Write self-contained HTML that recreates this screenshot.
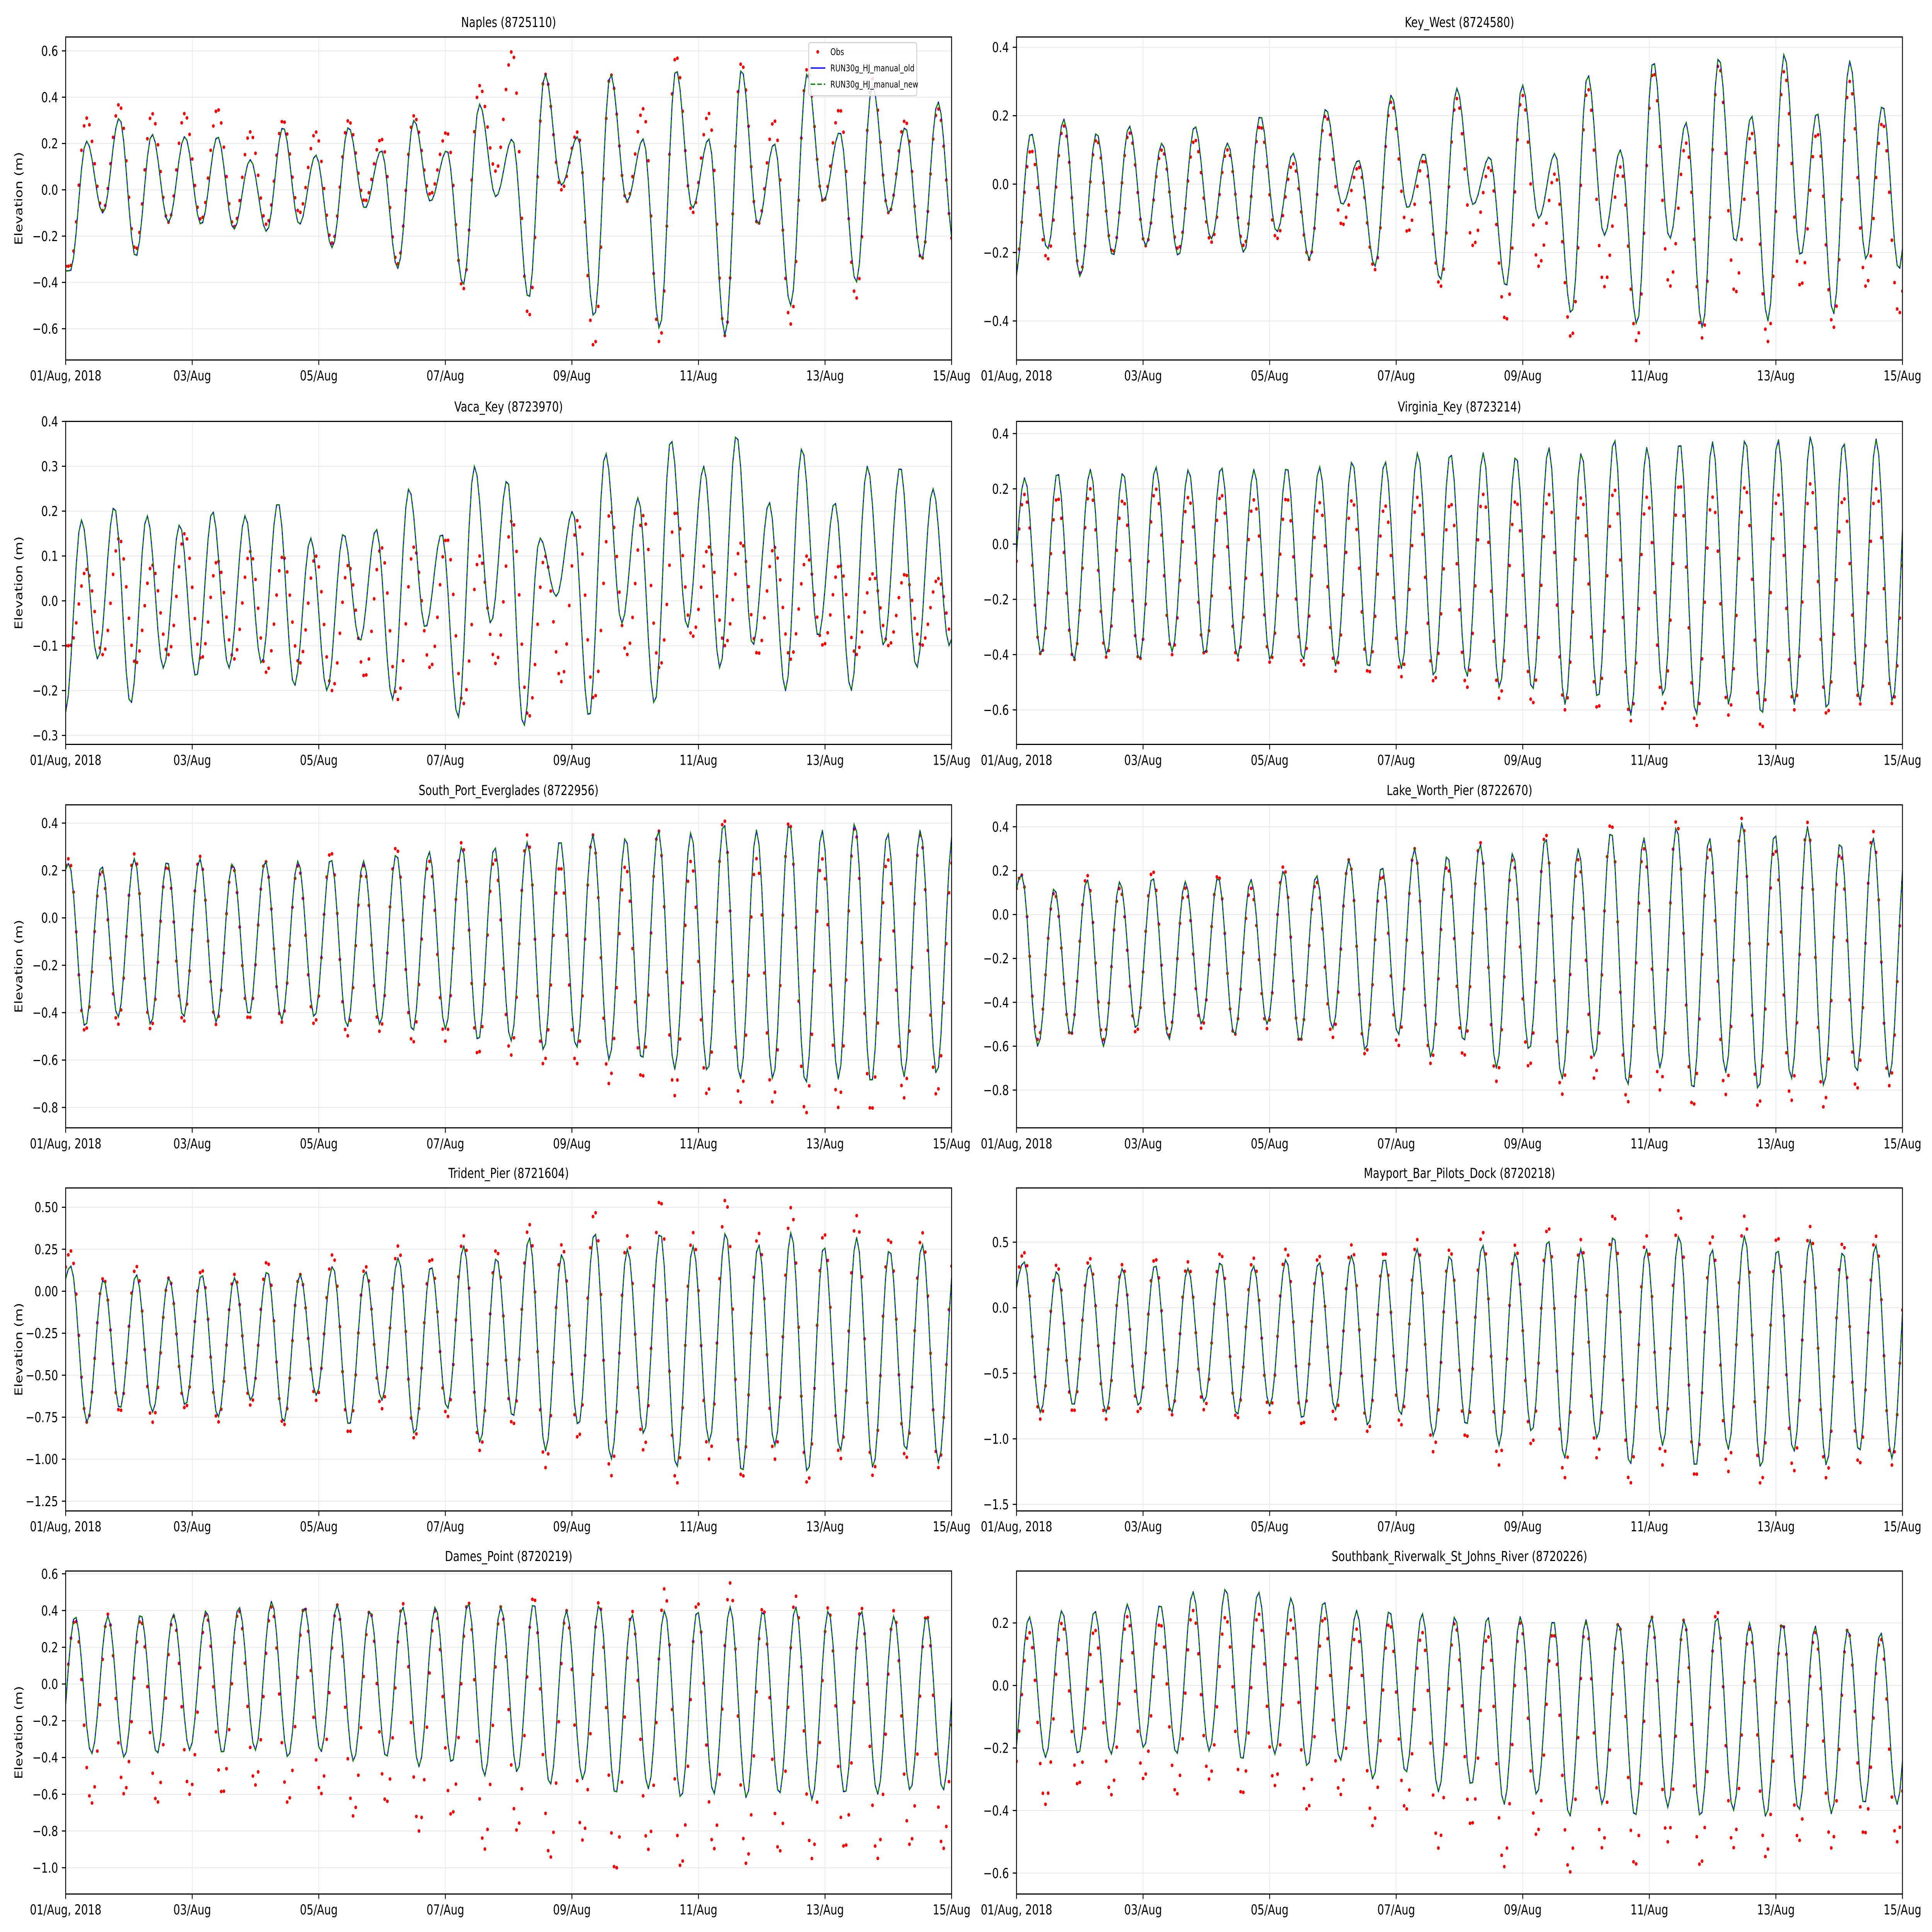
<!DOCTYPE html>
<html><head><meta charset="utf-8"><style>
html,body{margin:0;padding:0;background:#fff;overflow:hidden;width:100vw;height:100vh}
svg{display:block;width:100vw;height:100vh}
text{font-family:"DejaVu Sans","Liberation Sans",sans-serif}
</style></head><body>
<svg id="fig" xmlns="http://www.w3.org/2000/svg" viewBox="0 0 7650 5850" preserveAspectRatio="none"></svg>
<script>
const stations = ["Naples (8725110)","Key_West (8724580)","Vaca_Key (8723970)","Virginia_Key (8723214)","South_Port_Everglades (8722956)","Lake_Worth_Pier (8722670)","Trident_Pier (8721604)","Mayport_Bar_Pilots_Dock (8720218)","Dames_Point (8720219)","Southbank_Riverwalk_St_Johns_River (8720226)"];
const xTickLabels = ["01/Aug, 2018","03/Aug","05/Aug","07/Aug","09/Aug","11/Aug","13/Aug","15/Aug"];
const firstHigh = [0.33,0.23,0.25,0.13,0.05,0.08,0.08,0.12,0.15,0.2];
const obsShift = [0,0,0.08,0,0,0,0,0,0,0];
const yLims = [[-0.735,0.66],[-0.514,0.43],[-0.32,0.40],[-0.725,0.444],[-0.886,0.477],[-0.972,0.50],[-1.308,0.615],[-1.55,0.914],[-1.143,0.615],[-0.667,0.366]];
const yTicks = [[-0.6,-0.4,-0.2,0,0.2,0.4,0.6],[-0.4,-0.2,0,0.2,0.4],[-0.3,-0.2,-0.1,0,0.1,0.2,0.3,0.4],[-0.6,-0.4,-0.2,0,0.2,0.4],[-0.8,-0.6,-0.4,-0.2,0,0.2,0.4],[-0.8,-0.6,-0.4,-0.2,0,0.2,0.4],[-1.25,-1,-0.75,-0.5,-0.25,0,0.25,0.5],[-1.5,-1,-0.5,0,0.5],[-1,-0.8,-0.6,-0.4,-0.2,0,0.2,0.4,0.6],[-0.6,-0.4,-0.2,0,0.2]];
const yDecimals = [1,1,1,1,1,1,2,1,1,1];

const H0=[0.21,0.31,0.24,0.23,0.23,0.13,0.27,0.15,0.27,0.17,0.30,0.17,0.37,0.22,0.50,0.23,0.50,0.22,0.52,0.22,0.52,0.20,0.50,0.25,0.45,0.27,0.38,0.30];
const L0=[-0.35,-0.10,-0.29,-0.14,-0.15,-0.17,-0.18,-0.15,-0.25,-0.08,-0.34,-0.05,-0.41,-0.03,-0.47,0.02,-0.55,-0.05,-0.60,-0.08,-0.63,-0.15,-0.50,-0.05,-0.40,-0.10,-0.30,-0.25,-0.2];
const OH0=[0.31,0.37,0.33,0.33,0.35,0.25,0.30,0.25,0.30,0.22,0.32,0.25,0.45,0.60,0.50,0.25,0.50,0.35,0.58,0.33,0.55,0.30,0.52,0.35,0.48,0.30,0.35,0.32];
const OL0=[-0.33,-0.09,-0.26,-0.14,-0.13,-0.16,-0.15,-0.10,-0.23,-0.05,-0.32,-0.02,-0.43,0.08,-0.55,0.0,-0.68,-0.05,-0.66,-0.10,-0.63,-0.15,-0.58,-0.05,-0.47,-0.10,-0.30,-0.25,-0.2];

const H1=[0.15,0.19,0.15,0.17,0.12,0.17,0.12,0.20,0.09,0.22,0.07,0.26,0.09,0.28,0.08,0.29,0.09,0.32,0.10,0.36,0.18,0.37,0.20,0.38,0.21,0.36,0.23,0.29];
const L1=[-0.28,-0.19,-0.27,-0.21,-0.18,-0.21,-0.16,-0.20,-0.14,-0.22,-0.06,-0.24,-0.07,-0.28,-0.06,-0.30,-0.10,-0.38,-0.15,-0.41,-0.16,-0.42,-0.17,-0.40,-0.21,-0.38,-0.22,-0.25,-0.2];
const OH1=[0.10,0.17,0.13,0.15,0.10,0.13,0.10,0.17,0.06,0.20,0.05,0.24,0.07,0.25,0.05,0.26,0.03,0.28,0.05,0.33,0.12,0.35,0.15,0.33,0.15,0.30,0.18,0.22];
const OL1=[-0.25,-0.22,-0.26,-0.20,-0.18,-0.19,-0.17,-0.18,-0.16,-0.22,-0.12,-0.25,-0.14,-0.30,-0.18,-0.40,-0.24,-0.45,-0.30,-0.46,-0.30,-0.45,-0.32,-0.46,-0.30,-0.42,-0.30,-0.38,-0.3];

const H2=[0.18,0.21,0.19,0.17,0.20,0.19,0.22,0.14,0.15,0.16,0.25,0.15,0.30,0.27,0.14,0.20,0.33,0.23,0.36,0.30,0.37,0.22,0.34,0.22,0.30,0.30,0.25,0.20];
const L2=[-0.25,-0.13,-0.23,-0.15,-0.17,-0.15,-0.14,-0.19,-0.20,-0.09,-0.22,-0.06,-0.26,-0.05,-0.28,0.01,-0.26,-0.05,-0.23,-0.06,-0.15,-0.10,-0.20,-0.08,-0.20,-0.10,-0.15,-0.1,-0.1];
const OH2=[0.07,0.14,0.08,0.15,0.09,0.11,0.10,0.10,0.08,0.12,0.12,0.14,0.10,0.18,0.10,0.18,0.20,0.19,0.20,0.12,0.13,0.12,0.10,0.08,0.06,0.06,0.05,0.05];
const OL2=[-0.10,-0.12,-0.14,-0.12,-0.13,-0.13,-0.16,-0.14,-0.20,-0.17,-0.22,-0.15,-0.23,-0.14,-0.26,-0.18,-0.22,-0.12,-0.15,-0.08,-0.10,-0.12,-0.13,-0.10,-0.12,-0.10,-0.10,-0.1,-0.1];

const H3=[0.24,0.26,0.27,0.26,0.28,0.27,0.28,0.27,0.28,0.28,0.30,0.30,0.33,0.33,0.33,0.32,0.35,0.33,0.38,0.35,0.37,0.37,0.38,0.38,0.39,0.37,0.38,0.37];
const L3=[-0.30,-0.40,-0.42,-0.40,-0.42,-0.39,-0.40,-0.41,-0.42,-0.42,-0.44,-0.45,-0.45,-0.48,-0.48,-0.52,-0.53,-0.58,-0.56,-0.62,-0.55,-0.62,-0.58,-0.62,-0.58,-0.60,-0.57,-0.57,-0.5];
const OH3=[0.18,0.17,0.20,0.16,0.20,0.17,0.18,0.16,0.17,0.15,0.16,0.14,0.17,0.15,0.18,0.16,0.18,0.17,0.20,0.17,0.22,0.17,0.21,0.18,0.22,0.17,0.20,0.18];
const OL3=[-0.30,-0.40,-0.42,-0.41,-0.42,-0.40,-0.40,-0.42,-0.43,-0.44,-0.46,-0.47,-0.48,-0.50,-0.52,-0.56,-0.58,-0.60,-0.60,-0.64,-0.60,-0.66,-0.62,-0.67,-0.60,-0.62,-0.58,-0.58,-0.5];

const H4=[0.23,0.22,0.25,0.24,0.25,0.23,0.24,0.24,0.25,0.24,0.27,0.28,0.30,0.30,0.32,0.33,0.35,0.34,0.37,0.36,0.40,0.37,0.40,0.37,0.40,0.36,0.37,0.36];
const L4=[-0.05,-0.46,-0.42,-0.45,-0.42,-0.44,-0.41,-0.43,-0.42,-0.46,-0.45,-0.48,-0.47,-0.52,-0.52,-0.56,-0.55,-0.60,-0.60,-0.64,-0.65,-0.68,-0.68,-0.70,-0.68,-0.70,-0.67,-0.66,-0.6];
const OH4=[0.25,0.20,0.27,0.22,0.26,0.22,0.24,0.22,0.28,0.22,0.30,0.24,0.32,0.25,0.35,0.22,0.35,0.22,0.37,0.24,0.42,0.25,0.41,0.25,0.38,0.25,0.35,0.25];
const OL4=[-0.05,-0.48,-0.45,-0.47,-0.44,-0.45,-0.43,-0.44,-0.45,-0.50,-0.48,-0.53,-0.52,-0.58,-0.58,-0.62,-0.62,-0.70,-0.68,-0.75,-0.75,-0.78,-0.78,-0.83,-0.80,-0.82,-0.76,-0.75,-0.7];

const H5=[0.18,0.12,0.16,0.15,0.17,0.15,0.17,0.16,0.20,0.18,0.25,0.22,0.30,0.27,0.32,0.28,0.35,0.30,0.38,0.35,0.40,0.35,0.42,0.37,0.40,0.33,0.35,0.30];
const L5=[-0.10,-0.60,-0.55,-0.60,-0.52,-0.57,-0.50,-0.55,-0.50,-0.58,-0.52,-0.62,-0.55,-0.65,-0.58,-0.70,-0.62,-0.75,-0.65,-0.78,-0.70,-0.80,-0.72,-0.80,-0.75,-0.78,-0.72,-0.74,-0.6];
const OH5=[0.18,0.10,0.18,0.12,0.20,0.12,0.18,0.12,0.22,0.15,0.25,0.18,0.30,0.22,0.33,0.25,0.37,0.25,0.42,0.30,0.43,0.30,0.44,0.30,0.42,0.28,0.38,0.25];
const OL5=[-0.10,-0.57,-0.55,-0.57,-0.54,-0.55,-0.52,-0.55,-0.52,-0.58,-0.56,-0.64,-0.60,-0.68,-0.65,-0.76,-0.70,-0.82,-0.75,-0.86,-0.80,-0.88,-0.82,-0.88,-0.85,-0.88,-0.80,-0.78,-0.7];

const H6=[0.15,0.07,0.10,0.08,0.10,0.08,0.12,0.10,0.15,0.12,0.20,0.15,0.27,0.20,0.32,0.22,0.35,0.25,0.35,0.27,0.35,0.28,0.35,0.27,0.32,0.25,0.28,0.20];
const L6=[-0.20,-0.78,-0.70,-0.72,-0.68,-0.75,-0.65,-0.78,-0.62,-0.80,-0.65,-0.85,-0.70,-0.90,-0.75,-0.95,-0.80,-1.00,-0.85,-1.05,-0.90,-1.08,-0.92,-1.08,-0.95,-1.05,-0.95,-1.02,-0.8];
const OH6=[0.24,0.08,0.15,0.08,0.13,0.10,0.18,0.10,0.22,0.15,0.27,0.20,0.33,0.25,0.40,0.28,0.48,0.33,0.55,0.35,0.55,0.35,0.50,0.35,0.45,0.32,0.35,0.28];
const OL6=[-0.20,-0.78,-0.72,-0.78,-0.70,-0.78,-0.68,-0.80,-0.65,-0.85,-0.70,-0.88,-0.75,-0.95,-0.80,-1.05,-0.88,-1.10,-0.95,-1.15,-1.00,-1.12,-1.00,-1.15,-1.00,-1.10,-1.00,-1.05,-0.9];

const H7=[0.35,0.28,0.33,0.30,0.33,0.30,0.35,0.32,0.37,0.35,0.40,0.38,0.45,0.40,0.48,0.42,0.52,0.45,0.55,0.45,0.55,0.45,0.55,0.45,0.52,0.43,0.48,0.40];
const L7=[-0.10,-0.80,-0.75,-0.80,-0.75,-0.80,-0.72,-0.82,-0.75,-0.85,-0.78,-0.90,-0.82,-0.98,-0.90,-1.05,-0.95,-1.15,-1.00,-1.20,-1.05,-1.22,-1.08,-1.22,-1.10,-1.20,-1.10,-1.15,-0.9];
const OH7=[0.42,0.33,0.38,0.33,0.38,0.35,0.42,0.38,0.45,0.40,0.48,0.43,0.52,0.45,0.58,0.48,0.62,0.52,0.72,0.55,0.75,0.55,0.70,0.55,0.62,0.50,0.55,0.45];
const OL7=[-0.10,-0.85,-0.80,-0.85,-0.80,-0.82,-0.78,-0.85,-0.80,-0.90,-0.85,-0.95,-0.90,-1.10,-1.00,-1.20,-1.05,-1.30,-1.15,-1.35,-1.20,-1.30,-1.25,-1.35,-1.25,-1.30,-1.20,-1.20,-1.0];

const H8=[0.37,0.37,0.38,0.38,0.40,0.42,0.45,0.42,0.43,0.40,0.42,0.42,0.44,0.42,0.44,0.40,0.43,0.38,0.40,0.40,0.42,0.40,0.42,0.40,0.40,0.37,0.37,0.35];
const L8=[-0.40,-0.38,-0.40,-0.38,-0.36,-0.38,-0.36,-0.40,-0.37,-0.42,-0.40,-0.45,-0.43,-0.50,-0.48,-0.55,-0.52,-0.60,-0.57,-0.62,-0.60,-0.62,-0.60,-0.63,-0.60,-0.60,-0.58,-0.58,-0.5];
const OH8=[0.35,0.38,0.35,0.37,0.38,0.40,0.42,0.42,0.43,0.40,0.44,0.40,0.45,0.42,0.48,0.40,0.45,0.40,0.52,0.45,0.55,0.42,0.48,0.42,0.42,0.40,0.38,0.35];
const OL8=[-0.30,-0.65,-0.60,-0.65,-0.60,-0.60,-0.55,-0.65,-0.60,-0.72,-0.65,-0.80,-0.72,-0.90,-0.80,-0.95,-0.85,-1.02,-0.90,-1.00,-0.90,-0.98,-0.92,-0.95,-0.90,-0.95,-0.88,-0.90,-0.8];

const H9=[0.22,0.24,0.24,0.26,0.26,0.30,0.31,0.30,0.28,0.27,0.24,0.24,0.23,0.22,0.22,0.22,0.21,0.21,0.20,0.22,0.21,0.22,0.20,0.20,0.19,0.18,0.17,0.17];
const L9=[-0.25,-0.23,-0.22,-0.22,-0.20,-0.22,-0.21,-0.24,-0.22,-0.26,-0.24,-0.30,-0.28,-0.34,-0.32,-0.38,-0.35,-0.42,-0.38,-0.42,-0.39,-0.42,-0.40,-0.42,-0.40,-0.41,-0.38,-0.38,-0.35];
const OH9=[0.17,0.20,0.18,0.22,0.20,0.24,0.22,0.23,0.21,0.22,0.18,0.20,0.17,0.20,0.16,0.20,0.17,0.20,0.20,0.22,0.21,0.24,0.18,0.20,0.17,0.18,0.15,0.15];
const OL9=[-0.30,-0.38,-0.32,-0.35,-0.30,-0.35,-0.30,-0.35,-0.32,-0.40,-0.35,-0.45,-0.40,-0.52,-0.45,-0.58,-0.48,-0.60,-0.52,-0.58,-0.50,-0.58,-0.52,-0.55,-0.50,-0.52,-0.48,-0.50,-0.45];

const modelHighs=[H0,H1,H2,H3,H4,H5,H6,H7,H8,H9];
const modelLows=[L0,L1,L2,L3,L4,L5,L6,L7,L8,L9];
const obsHighs=[OH0,OH1,OH2,OH3,OH4,OH5,OH6,OH7,OH8,OH9];
const obsLows=[OL0,OL1,OL2,OL3,OL4,OL5,OL6,OL7,OL8,OL9];

// ---- layout ----
const NS="http://www.w3.org/2000/svg";
const svg=document.getElementById('fig');
const colX=[260,4025], rowY=[112,1276,2437,3597,4757], AW=3508, AH=978, DAYS=14, P=0.5175;
function el(tag,attrs,parent){const e=document.createElementNS(NS,tag);for(const k in attrs)e.setAttribute(k,attrs[k]);(parent||svg).appendChild(e);return e;}
function fmt(v,d){const s=Math.abs(v).toFixed(d);return (v<-1e-9?"\u2212":"")+s;}
function series(highs,lows,t0){
  const ev=[];
  for(let i=0;i<lows.length;i++){
    ev.push([t0+(i-0.5)*P,lows[i]]);
    if(i<highs.length) ev.push([t0+i*P,highs[i]]);
  }
  return function(t){
    if(t<=ev[0][0]) return ev[0][1];
    for(let k=0;k<ev.length-1;k++){
      const a=ev[k],b=ev[k+1];
      if(t>=a[0]&&t<=b[0]){const f=(t-a[0])/(b[0]-a[0]);return a[1]+(b[1]-a[1])*(1-Math.cos(Math.PI*f))/2;}
    }
    return ev[ev.length-1][1];
  };
}

for(let p=0;p<10;p++){
  const c=p%2, r=Math.floor(p/2);
  const x0=colX[c], y0=rowY[r];
  const [ymin,ymax]=yLims[p];
  const xs=t=>x0+t/DAYS*AW;
  const ys=v=>y0+AH-(v-ymin)/(ymax-ymin)*AH;
  const g=el('g',{});
  
  
  const clipId='clip'+p;
  const cp=el('clipPath',{id:clipId},g);el('rect',{x:x0,y:y0,width:AW,height:AH},cp);
  xTickLabels.forEach((lab,i)=>{const x=xs(i*2);
    const gl=el('line',{x1:x,x2:x,y1:y0,y2:y0+AH,stroke:'#ebebeb','stroke-width':3},g);
    });
  yTicks[p].forEach(v=>{const y=ys(v);
    const gl=el('line',{x1:x0,x2:x0+AW,y1:y,y2:y,stroke:'#ebebeb','stroke-width':3},g);
    });
  const fm=series(modelHighs[p],modelLows[p],firstHigh[p]);
  let d='';
  for(let h=0;h<=DAYS*24;h++){const t=h/24;d+=(h?'L':'M')+xs(t).toFixed(1)+','+ys(fm(t)).toFixed(1);}
  const dg=el('g',{'clip-path':'url(#'+clipId+')'},g);
  const fo=series(obsHighs[p],obsLows[p],firstHigh[p]+obsShift[p]);
  for(let h=0;h<=DAYS*24;h++){const t=h/24;
    const dot=el('circle',{cx:xs(t).toFixed(1),cy:ys(fo(t)).toFixed(1),r:5.5,fill:'#ff0000'},dg);
    
    }
  const l1=el('path',{d:d,fill:'none',stroke:'#0000ff','stroke-width':4,'stroke-linejoin':'round'},dg);
  
  const l2=el('path',{d:d,fill:'none',stroke:'#008000','stroke-width':4,'stroke-dasharray':'18,8'},dg);
  
  const fr=el('rect',{x:x0,y:y0,width:AW,height:AH,fill:'none',stroke:'#000','stroke-width':3.5},g);
  
  xTickLabels.forEach((lab,i)=>{const x=xs(i*2);
    el('line',{x1:x,x2:x,y1:y0+AH,y2:y0+AH+15,stroke:'#000','stroke-width':3.3},g);
    const t=el('text',{x:x,y:y0+AH+62,'font-size':42,'text-anchor':'middle',fill:'#000'},g);
    t.textContent=lab;});
  yTicks[p].forEach(v=>{const y=ys(v);
    el('line',{x1:x0-15,x2:x0,y1:y,y2:y,stroke:'#000','stroke-width':3.3},g);
    const t=el('text',{x:x0-30,y:y+15,'font-size':42,'text-anchor':'end',fill:'#000'},g);
    t.textContent=fmt(v,yDecimals[p]);});
  const ti=el('text',{x:x0+AW/2,y:y0-30,'font-size':42,'text-anchor':'middle',fill:'#000'},g);
  ti.textContent=stations[p];
  if(c===0){
    const yl=el('text',{x:0,y:0,'font-size':42,'text-anchor':'middle',fill:'#000',transform:'translate(88,'+(y0+AH/2)+') rotate(-90)'},g);
    yl.textContent='Elevation (m)';
  }
}
const lg=el('g',{});


el('rect',{x:3202,y:129,width:428,height:161,rx:8,fill:'#fff','fill-opacity':0.85,stroke:'#cccccc','stroke-width':3},lg);
el('circle',{cx:3238,cy:157,r:5.5,fill:'#ff0000'},lg);
el('line',{x1:3210,x2:3268,y1:206,y2:206,stroke:'#0000ff','stroke-width':4},lg);
el('line',{x1:3210,x2:3268,y1:255,y2:255,stroke:'#008000','stroke-width':4,'stroke-dasharray':'18,8'},lg);
[['Obs',167],['RUN30g_HJ_manual_old',216],['RUN30g_HJ_manual_new',265]].forEach(([s,y])=>{
  const t=el('text',{x:3288,y:y,'font-size':28,fill:'#000'},lg);t.textContent=s;
  
  
});
</script>
</body></html>
